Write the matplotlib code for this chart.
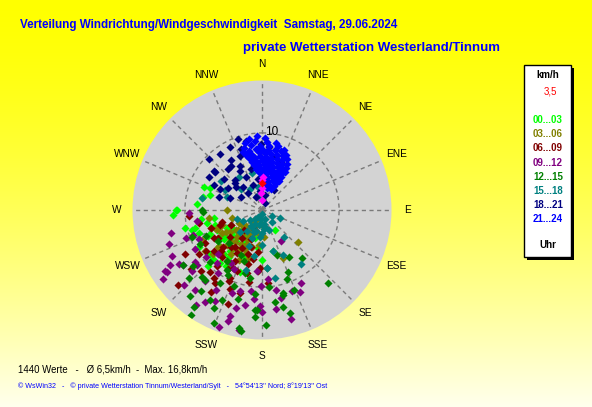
import numpy as np
import matplotlib
matplotlib.use("Agg")
import matplotlib.pyplot as plt
from matplotlib.patches import Rectangle

plt.rcParams['font.family'] = ['Liberation Sans', 'DejaVu Sans']

# ---------------- data: wind direction (deg, clockwise from N) and speed (km/h) ----------------
dir_00_03 = [270, 267, 292, 293, 275, 282, 270, 286, 257, 254, 252, 230, 218, 212, 165, 147, 257, 260, 255, 250,
             230, 221, 218, 224, 208, 194, 186, 246, 242, 224, 213, 235, 215, 200, 240, 262, 200, 180, 225,
             228, 236, 244, 210, 232, 205, 215, 225, 235, 245, 200, 220, 238]
spd_00_03 = [11.1, 11.5, 8.1, 7.3, 8.5, 7.8, 11.0, 7.0, 10.3, 9.5, 6.4, 8.8, 8.8, 8.5, 5.5, 3.1, 7.3, 6.3, 9.0, 8.7,
             7.2, 7.5, 6.7, 4.6, 4.8, 3.8, 5.0, 6.4, 5.1, 10.1, 8.6, 5.8, 6.0, 6.5, 9.5, 8.0, 3.0, 6.5, 3.5,
             5.0, 7.0, 7.8, 4.0, 6.2, 5.5, 7.5, 9.0, 4.5, 7.5, 8.5, 5.2, 6.5]

dir_03_06 = [132, 156, 270, 262, 243, 234, 240, 235, 230, 225, 220, 215, 210, 205, 200, 195, 190, 225, 230, 215,
             210, 220, 245, 250, 240, 200, 205, 185, 180, 250, 255, 215, 228, 195, 175, 210,
             222, 238, 212, 226, 218, 232, 204, 246, 198, 208, 218, 228, 238, 248, 203, 213, 223, 233]
spd_03_06 = [6.3, 6.8, 4.5, 7.0, 8.7, 9.1, 6.0, 5.0, 4.0, 3.0, 5.5, 4.5, 3.5, 2.5, 4.0, 5.0, 3.0, 6.5, 7.5, 7.0,
             6.0, 2.0, 4.5, 5.5, 3.5, 6.0, 7.2, 4.5, 2.0, 7.0, 4.0, 8.0, 8.5, 6.5, 3.5, 1.5,
             4.8, 6.8, 5.2, 5.8, 3.8, 4.2, 4.8, 6.2, 3.2, 4.2, 6.2, 7.2, 5.5, 6.5, 5.5, 2.8, 7.8, 3.2]

dir_06_09 = [228, 213, 202, 205, 258, 253, 238, 207, 199, 195, 207, 219, 193, 202, 184, 195, 182, 175, 225, 230,
             215, 210, 240, 245, 220, 190, 198, 235, 250, 212, 185, 222, 230, 200, 240, 265,
             216, 226, 208, 234, 196, 220, 190, 200, 210, 220, 230, 240, 250, 205, 215, 225]
spd_06_09 = [14.6, 11.3, 11.1, 10.2, 8.3, 5.4, 6.8, 5.6, 2.8, 7.2, 8.4, 9.3, 8.4, 8.5, 7.9, 11.2, 7.5, 9.5, 7.5, 5.5,
             4.5, 6.5, 8.5, 4.5, 10.5, 9.5, 6.0, 10.0, 7.0, 12.5, 5.5, 3.5, 12.0, 13.0, 11.5, 9.5,
             6.0, 7.0, 7.5, 9.0, 5.0, 8.0, 6.5, 4.0, 8.8, 6.2, 8.2, 7.2, 5.8, 9.8, 10.8, 11.2]

dir_09_12 = [256, 268, 237, 235, 237, 229, 148, 152, 155, 160, 168, 172, 180, 191, 197, 195, 207, 219, 195, 188,
             181, 175, 238, 226, 197, 185, 181, 165, 243, 239, 250, 245, 230, 215, 210, 200, 190, 220, 205, 185,
             170, 225, 260, 215, 200, 232, 250, 212, 240, 230, 220, 210, 250, 235]
spd_09_12 = [12.1, 9.5, 14.7, 15.6, 12.8, 12.0, 4.7, 10.7, 11.7, 11.2, 11.7, 13.0, 13.2, 15.8, 14.4, 13.2, 13.3, 11.8, 10.9, 10.6,
             9.9, 9.0, 14.9, 14.0, 15.1, 11.6, 12.5, 14.7, 13.1, 13.9, 10.5, 9.0, 9.5, 10.0, 12.0, 11.5, 12.5, 13.5, 8.5, 8.0,
             10.5, 8.0, 8.5, 15.0, 16.2, 11.0, 12.8, 14.0, 10.0, 11.0, 9.0, 8.0, 9.5, 12.5]

dir_12_15 = [214, 215, 217, 219, 210, 206, 203, 204, 191, 190, 184, 183, 178, 208, 165, 168, 172, 166, 158, 140,
             138, 157, 162, 184, 166, 227, 222, 249, 241, 231, 268, 270, 200, 195, 215, 225, 175, 160, 150, 185,
             235, 210, 195, 220, 175, 205, 235, 245, 225, 200, 190, 210]
spd_12_15 = [16.5, 15.3, 13.1, 11.7, 13.5, 14.1, 15.9, 12.8, 15.6, 16.0, 13.9, 13.0, 14.9, 9.5, 13.9, 12.9, 12.1, 11.1, 11.2, 8.1,
             12.7, 8.7, 6.2, 13.0, 11.4, 13.0, 11.7, 9.7, 9.2, 11.5, 7.7, 7.8, 10.5, 8.5, 8.0, 9.5, 10.0, 9.5, 7.0, 11.0,
             12.5, 11.0, 12.0, 14.5, 7.5, 6.5, 7.0, 8.0, 6.0, 7.0, 9.0, 9.0]

dir_15_18 = [180, 200, 160, 220, 190, 170, 210, 230, 200, 185, 215, 240, 160, 140, 120, 0, -20, -10, -30, -45,
             -62, -69, -79, -55, 114, 144, 169, 175, 190, 200, 180, 165, 225, 250, -35, -15, 10, 195, 155, 140,
             190, 205, 175, 215, 185, 200, 170, 195, 210, 180]
spd_15_18 = [0.5, 1.0, 1.2, 1.5, 2.0, 2.2, 2.5, 2.0, 3.0, 3.5, 3.3, 2.8, 2.8, 2.0, 1.5, 1.5, 2.0, 3.0, 3.2, 3.8,
             5.5, 4.8, 7.9, 6.5, 2.6, 8.6, 9.0, 7.5, 6.0, 5.0, 4.5, 5.5, 4.0, 3.5, 5.2, 5.0, 3.5, 8.0, 6.5, 4.5,
             1.8, 2.0, 2.5, 2.5, 1.2, 3.8, 1.8, 2.8, 1.0, 3.0]

dir_18_21 = [-46, -51, -58, -37, -27, -19, -13, -19, -32, -40, -51, -42, -57, -73, -69, -27, -15, -26, -40, -40,
             -25, 23, 22, 15, 6, -1, 24, -51, -64, -45, -58, -35, -22, -10, -30, -48, -20, -8, -5, 10,
             -62, 30]
spd_18_21 = [9.6, 8.0, 8.1, 9.1, 9.2, 9.7, 9.2, 8.4, 7.7, 6.9, 6.3, 5.3, 5.3, 5.8, 4.4, 6.4, 5.5, 4.8, 3.9, 2.9,
             1.9, 1.0, 6.7, 7.2, 8.2, 8.6, 5.8, 7.8, 6.1, 5.0, 3.2, 7.0, 7.5, 6.5, 5.8, 4.5, 3.5, 4.0, 2.5, 2.0,
             7.0, 3.0]

dir_21_24 = [-10, -4, 2,
             -14, -6, 4, 12,
             -16, -10, -2, 6, 14, 20,
             -18, -12, -6, 0, 6, 12, 18, 24,
             -16, -10, -3, 3, 9, 15, 21, 26,
             -14, -8, -2, 4, 10, 16, 22, 28,
             -12, -6, 0, 6, 12, 18, 24, 30,
             -10, -4, 2, 8, 14, 20, 26, 31,
             -8, -2, 4, 10, 16, 22, 28,
             -4, 2, 8, 14, 20, 26, 30,
             0, 8, 16, 24, 30,
             4, 12, 20, 28,
             8, 18, 26,
             14, 24]
spd_21_24 = [9.4, 9.6, 9.3,
             8.9, 9.0, 8.8, 8.9,
             8.4, 8.5, 8.3, 8.4, 8.5, 8.3,
             7.9, 7.8, 8.0, 7.9, 7.8, 7.9, 8.0, 7.8,
             7.4, 7.3, 7.5, 7.4, 7.3, 7.4, 7.5, 7.3,
             6.9, 6.8, 7.0, 6.9, 6.8, 6.9, 7.0, 6.8,
             6.4, 6.3, 6.5, 6.4, 6.3, 6.4, 6.5, 6.3,
             5.9, 5.8, 6.0, 5.9, 5.8, 5.9, 6.0, 5.8,
             5.4, 5.3, 5.5, 5.4, 5.3, 5.4, 5.5,
             4.9, 4.8, 5.0, 4.9, 4.8, 4.9, 5.0,
             4.4, 4.3, 4.5, 4.4, 4.3,
             3.9, 3.8, 4.0, 3.9,
             3.4, 3.3, 3.5,
             2.9, 3.0]

dir_recent = [2, 0, 0, -3, 0]
spd_recent = [4.3, 3.9, 2.9, 2.2, 1.3]
dir_current = [0]
spd_current = [3.5]

group_labels = ["00...03", "03...06", "06...09", "09...12", "12...15", "15...18", "18...21", "21...24"]
group_colors = ["#00ff00", "#808000", "#800000", "#800080", "#008000", "#008080", "#000080", "#0000ff"]
group_dirs = [dir_00_03, dir_03_06, dir_06_09, dir_09_12, dir_12_15, dir_15_18, dir_18_21, dir_21_24]
group_spds = [spd_00_03, spd_03_06, spd_06_09, spd_09_12, spd_12_15, spd_15_18, spd_18_21, spd_21_24]

compass = ["N", "NNE", "NE", "ENE", "E", "ESE", "SE", "SSE",
           "S", "SSW", "SW", "WSW", "W", "WNW", "NW", "NNW"]
r_max = 16.8
current_speed = "3,5"
summary = "1440 Werte   -   \u00d8 6,5km/h  -  Max. 16,8km/h"
footer = ("\u00a9 WsWin32   -   \u00a9 private Wetterstation Tinnum/Westerland/Sylt   -   "
          "54\u00b054'13'' Nord; 8\u00b019'13'' Ost")
title1 = "Verteilung Windrichtung/Windgeschwindigkeit  Samstag, 29.06.2024"
title2 = "private Wetterstation Westerland/Tinnum"

# ---------------- figure ----------------
W, H = 592, 407
fig = plt.figure(figsize=(W / 100, H / 100), dpi=100)

# background gradient (yellow -> pale yellow)
bg = fig.add_axes([0, 0, 1, 1])
t = np.linspace(0, 1, 400)
img = np.ones((400, 1, 3))
img[:, 0, 2] = 0.93 * t ** 1.5
bg.imshow(img, aspect='auto', extent=[0, 1, 0, 1], origin='upper')
bg.set_xlim(0, 1); bg.set_ylim(0, 1)
bg.axis('off')

def px(x, y):
    return x / W, 1 - y / H

cx, cy, rad = 262, 210, 129.5
ax = fig.add_axes([(cx - rad) / W, (H - cy - rad) / H, 2 * rad / W, 2 * rad / H], projection='polar')
ax.set_theta_zero_location('N')
ax.set_theta_direction(-1)
ax.set_ylim(0, r_max)
ax.set_facecolor('#d3d3d3')
ax.spines['polar'].set_visible(False)
ax.set_xticks(np.deg2rad(np.arange(0, 360, 22.5)))
ax.set_xticklabels([])
ax.set_yticks([10])
ax.set_yticklabels([])
ax.grid(True, color='#7a7a7a', linestyle=(0, (3, 2.5)), linewidth=1.0)

for i, lab in enumerate(compass):
    ax.text(np.deg2rad(i * 22.5), 18.9, lab, ha='center', va='center', fontsize=7.3,
            color='black', clip_on=False)
ax.text(np.deg2rad(7), 10.2, "10", ha='center', va='center', fontsize=8.5, color='black')

for d, s, c in zip(group_dirs, group_spds, group_colors):
    ax.scatter(np.deg2rad(d), s, marker='D', s=17, c=c, linewidths=0, zorder=3)
ax.scatter(np.deg2rad(dir_recent), spd_recent, marker='D', s=17, c='#ff00ff', linewidths=0, zorder=4)
ax.scatter(np.deg2rad(dir_current), spd_current, marker='D', s=17, c='#ff0000', linewidths=0, zorder=5)

# titles
fig.text(*px(20, 25), title1, color='#0000ff', fontsize=8.4, fontweight='bold', ha='left', va='center')
fig.text(*px(243, 48), title2, color='#0000ff', fontsize=9.5, fontweight='bold', ha='left', va='center')

# legend box
x0, y0, x1, y1 = 524, 65, 571, 257
fig.add_artist(Rectangle(px(x0 + 3, y1 + 3), (x1 - x0) / W, (y1 - y0) / H,
                         transform=fig.transFigure, facecolor='black', edgecolor='none', zorder=5))
fig.add_artist(Rectangle(px(x0, y1), (x1 - x0) / W, (y1 - y0) / H,
                         transform=fig.transFigure, facecolor='white', edgecolor='black', linewidth=1, zorder=6))
lx = 548
fig.text(*px(lx, 75), "km/h", ha='center', va='center', fontsize=7, fontweight='bold', color='black', zorder=7)
fig.text(*px(lx + 2, 92), current_speed, ha='center', va='center', fontsize=7, color='#ff0000', zorder=7)
for i, (lab, c) in enumerate(zip(group_labels, group_colors)):
    fig.text(*px(lx, 120 + i * 14.2), lab, ha='center', va='center', fontsize=7,
             fontweight='bold', color=c, zorder=7)
fig.text(*px(lx, 245), "Uhr", ha='center', va='center', fontsize=7, fontweight='bold', color='black', zorder=7)

# bottom texts
fig.text(*px(18, 369), summary, ha='left', va='center', fontsize=6.9, color='black')
fig.text(*px(18, 386), footer, ha='left', va='center', fontsize=5.15, color='#0000ff')

fig.savefig("out.png", dpi=100)
